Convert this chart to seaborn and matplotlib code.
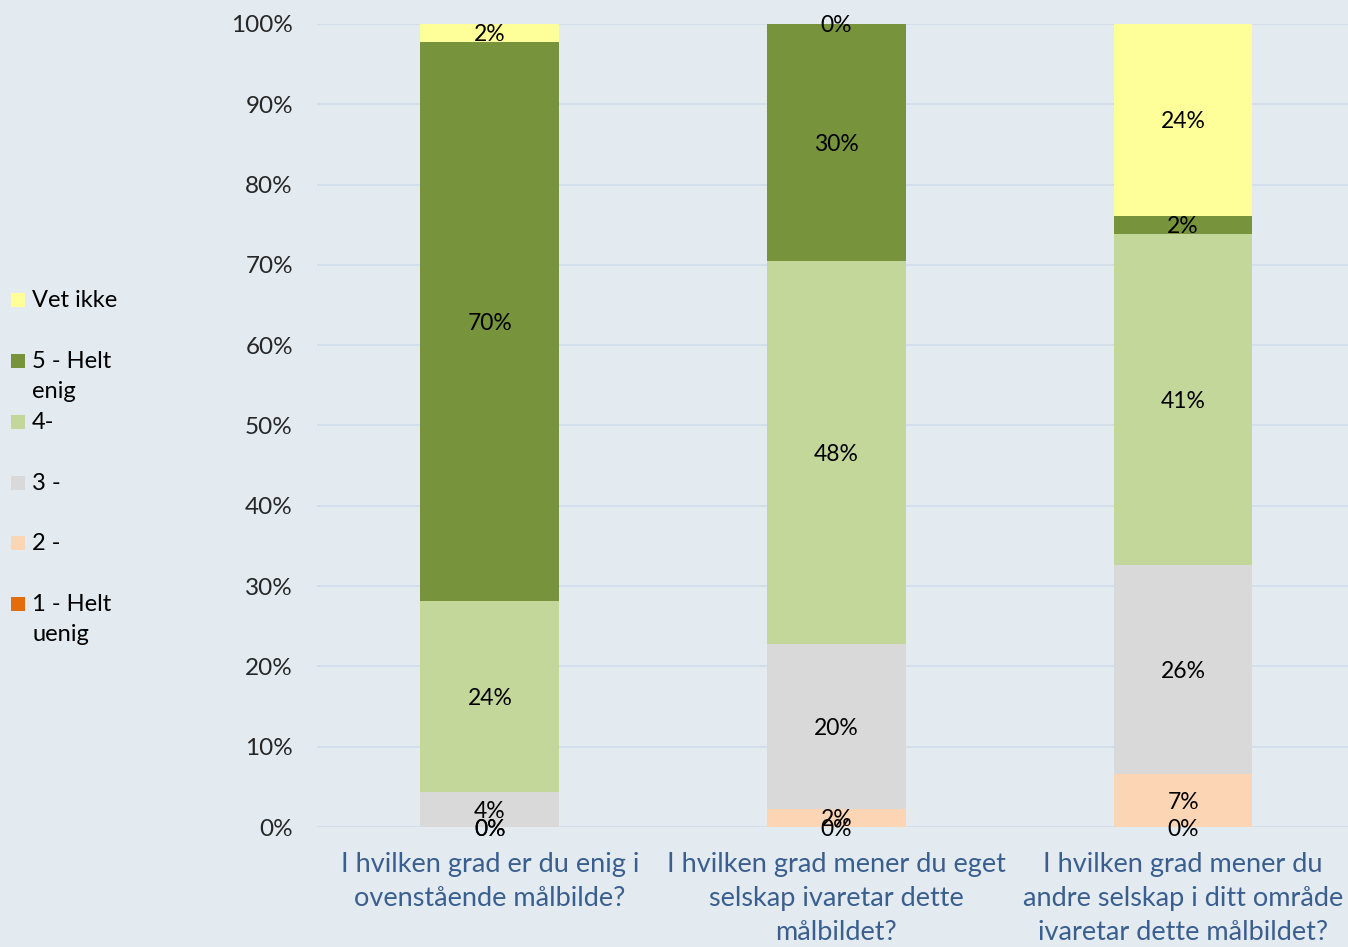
import numpy as np
import pandas as pd
import seaborn as sns
import matplotlib.pyplot as plt
from matplotlib.patches import Rectangle

questions = ['I hvilken grad er du enig i\novenstående målbilde?',
             'I hvilken grad mener du eget\nselskap ivaretar dette\nmålbildet?',
             'I hvilken grad mener du\nandre selskap i ditt område\nivaretar dette målbildet?']
series = ['1 - Helt uenig', '2 -', '3 -', '4-', '5 - Helt enig', 'Vet ikke']
legend_labels = ['1 - Helt\nuenig', '2 -', '3 -', '4-', '5 - Helt\nenig', 'Vet ikke']
colors = ['#E46C0A', '#FCD5B4', '#D9D9D9', '#C4D79B', '#77933C', '#FFFF99']

helt_uenig = [0.0, 0.0, 0.0]
to = [0.0, 2.3, 6.6]
tre = [4.3, 20.5, 26.0]
fire = [23.9, 47.7, 41.3]
helt_enig = [69.6, 29.5, 2.2]
vet_ikke = [2.2, 0.0, 23.9]
values = [helt_uenig, to, tre, fire, helt_enig, vet_ikke]

bg = '#E3EBF0'
sns.set_theme(style='white')
plt.rcParams['font.family'] = ['Lato', 'DejaVu Sans']

fig = plt.figure(figsize=(13.48, 9.47), dpi=100, facecolor=bg)
ax = fig.add_axes([316.5 / 1348, 1 - 827 / 947, 1040 / 1348, 803 / 947])
ax.set_facecolor(bg)

bottom = np.zeros(3)
for name, vals, col in zip(series, values, colors):
    df = pd.DataFrame({'q': questions, 'v': vals})
    sns.barplot(data=df, x='q', y='v', color=col, width=0.4, bottom=bottom,
                errorbar=None, saturation=1, linewidth=0, ax=ax, zorder=3)
    cont = ax.containers[-1]
    labs = ax.bar_label(cont, labels=[f'{round(v):.0f}%' for v in vals],
                        label_type='center', fontsize=16.5, color='black', zorder=5)
    for t in labs:
        t.set_y(t.get_position()[1])
        t.set_va('center_baseline')
    bottom = bottom + np.array(vals)

ax.set_ylim(0, 100)
ax.set_xlim(-0.5, 2.5)
ax.set_yticks(np.arange(0, 101, 10))
ax.set_yticklabels([f'{t}%' for t in range(0, 101, 10)], fontsize=17.5)
ax.tick_params(axis='y', length=0, pad=17)
ax.tick_params(axis='x', length=0, pad=18, labelsize=19.5, labelcolor='#3A5F8F')
for t in ax.get_xticklabels():
    t.set_linespacing(1.45)
ax.set_xlabel('')
ax.set_ylabel('')
ax.yaxis.grid(True, color='#CFDCEC', linewidth=1.2, zorder=0)
ax.set_axisbelow(True)
for s in ax.spines.values():
    s.set_visible(False)

# legend on the left
ys = [300, 361, 422, 483, 543, 604]
for lab, col, y in zip(legend_labels[::-1], colors[::-1], ys):
    fig.patches.append(Rectangle((11 / 1348, 1 - (y + 7) / 947), 14 / 1348, 14 / 947,
                                 transform=fig.transFigure, facecolor=col, edgecolor='none'))
    fig.text(32 / 1348, 1 - (y - 10) / 947, lab, fontsize=17, va='top', ha='left',
             linespacing=1.55, color='black')

plt.savefig('out.png', dpi=100, facecolor=bg)
